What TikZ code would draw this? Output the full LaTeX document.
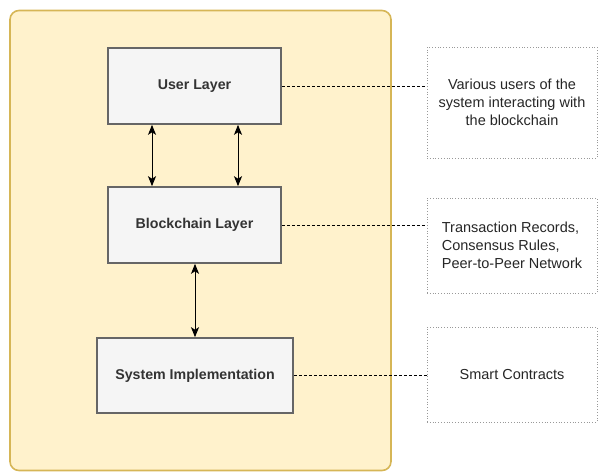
\documentclass[tikz,border=0pt]{standalone}
\usepackage{fontspec}
\setmainfont{Liberation Sans}
\usetikzlibrary{arrows.meta}
\begin{document}
\begin{tikzpicture}[x=1pt,y=-1pt,
  layerbox/.style={draw=black!60,fill=black!4,line width=1.6pt,font=\bfseries\fontsize{14.2}{16}\selectfont,text=black!80,inner sep=0pt},
  notebox/.style={draw=black!40,dotted,line width=0.8pt,align=center,font=\fontsize{14.5}{18}\selectfont,text=black!85,inner sep=0pt},
  dashline/.style={densely dashed,line width=0.8pt,black},
  biarrow/.style={{Stealth[length=10pt,width=8pt,inset=2.5pt]}-{Stealth[length=10pt,width=8pt,inset=2.5pt]},line width=0.9pt,black}]
\useasboundingbox (0,0) rectangle (599,472);
\node[draw={rgb,255:red,214;green,182;blue,86},fill={rgb,255:red,255;green,242;blue,204},line width=1.6pt,rounded corners=9pt,minimum width=381pt,minimum height=460pt,inner sep=0pt] (outer) at (200.5,240.5) {};
\node[layerbox,minimum width=173pt,minimum height=76pt] (user) at (194.5,86) {User Layer};
\node[layerbox,minimum width=173pt,minimum height=76pt] (chain) at (194.5,225) {Blockchain Layer};
\node[layerbox,minimum width=196pt,minimum height=75pt] (impl) at (195,375.5) {System Implementation};
\node[notebox,minimum width=170pt,minimum height=111pt] (n1) at (512,102.5) {Various users of the\\system interacting with\\the blockchain};
\node[notebox,minimum width=170pt,minimum height=95pt,align=left] (n2) at (512,245.5) {Transaction Records,\\Consensus Rules,\\Peer-to-Peer Network};
\node[notebox,minimum width=170pt,minimum height=95pt] (n3) at (512,374.5) {Smart Contracts};
\draw[biarrow] (user.south -| 152,0) -- (chain.north -| 152,0);
\draw[biarrow] (user.south -| 238,0) -- (chain.north -| 238,0);
\draw[biarrow] (chain.south -| 195,0) -- (impl.north -| 195,0);
\draw[dashline] (user.east) -- (user.east -| n1.west);
\draw[dashline] (chain.east) -- (chain.east -| n2.west);
\draw[dashline] (impl.east) -- (impl.east -| n3.west);
\end{tikzpicture}
\end{document}
